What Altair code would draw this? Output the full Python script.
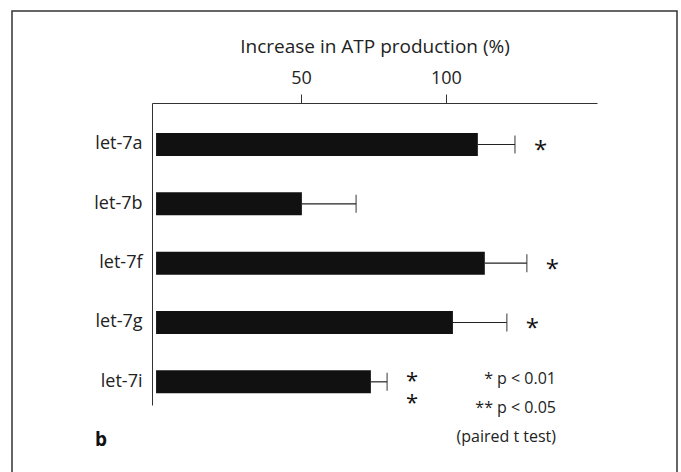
import altair as alt
import pandas as pd

# Data
categories = ["let-7a", "let-7b", "let-7f", "let-7g", "let-7i"]
increase = [111.0, 50.3, 113.4, 102.4, 74.1]
upper = [123.8, 69.0, 127.9, 121.0, 79.7]
significance = ["*", "", "*", "*", "**"]
tick_values = [50, 100]
legend_lines = ["* p < 0.01", "** p < 0.05", "(paired t test)"]

df = pd.DataFrame({
    "miRNA": categories,
    "increase": increase,
    "upper": upper,
    "sig": significance,
})

FONT = "Open Sans"
x_scale = alt.Scale(domain=[-1.4, 152.1], nice=False, zero=False)
y_scale = alt.Scale(domain=categories, paddingInner=0.612, paddingOuter=0.351, align=0.72)

x_enc = alt.X(
    "increase:Q",
    scale=x_scale,
    axis=alt.Axis(
        orient="top", values=tick_values, title="Increase in ATP production (%)",
        tickSize=9, labelPadding=7, titlePadding=13, grid=False,
        domainColor="#333", tickColor="#333", labelColor="#222", titleColor="#222",
        labelFont=FONT, titleFont=FONT, labelFontSize=18, titleFontSize=19,
        titleFontWeight="normal",
    ),
)
y_enc = alt.Y(
    "miRNA:N",
    scale=y_scale,
    sort=categories,
    axis=alt.Axis(
        title=None, ticks=False, domain=True, domainColor="#333", labelPadding=10,
        labelFont=FONT, labelFontSize=18, labelColor="#222",
    ),
)

base = alt.Chart(df)

bars = base.mark_bar(color="#111111").encode(
    x=x_enc, x2=alt.value(0), y=y_enc
)

whisker = base.mark_rule(color="#222", strokeWidth=1.2).encode(
    x=alt.X("increase:Q", scale=x_scale), x2="upper:Q",
    y=alt.Y("miRNA:N", scale=y_scale, sort=categories, bandPosition=0.5),
)

cap = base.mark_tick(color="#222", thickness=1.3, size=18, orient="vertical").encode(
    x=alt.X("upper:Q", scale=x_scale),
    y=alt.Y("miRNA:N", scale=y_scale, sort=categories),
)

star_enc = dict(
    x=alt.X("upper:Q", scale=x_scale),
    y=alt.Y("miRNA:N", scale=y_scale, sort=categories),
    text="stars:N",
)

single_stars = base.transform_filter("length(datum.sig) == 1").transform_calculate(
    stars="datum.sig"
).mark_text(
    font=FONT, fontSize=24, align="left", baseline="middle", dx=19, dy=7, color="#111",
).encode(**star_enc)

double_stars = base.transform_filter("length(datum.sig) == 2").transform_calculate(
    stars="'*\\n*'"
).mark_text(
    font=FONT, fontSize=22, align="left", baseline="middle", dx=19, dy=-1,
    lineBreak="\n", lineHeight=22, color="#111",
).encode(**star_enc)

legend_df = pd.DataFrame({"line": legend_lines, "row": [0, 1, 2]})
legend = alt.Chart(legend_df).transform_calculate(
    ypix="281 + datum.row * 29"
).mark_text(
    font=FONT, fontSize=16, align="right", baseline="alphabetic", color="#222",
).encode(
    x=alt.value(404),
    y=alt.Y("ypix:Q", scale=None, axis=None),
    text="line:N",
)

panel_df = pd.DataFrame({"label": ["b"]})
panel = alt.Chart(panel_df).mark_text(
    font=FONT, fontSize=19, fontWeight="bold", align="left", baseline="alphabetic", color="#111",
).encode(x=alt.value(-57), y=alt.value(343), text="label:N")

frame = alt.Chart(panel_df).mark_rect(
    fill=None, stroke="#333", strokeWidth=1.5
).encode(
    x=alt.value(-140), x2=alt.value(525), y=alt.value(-92), y2=alt.value(380)
)

chart = alt.layer(frame, bars, whisker, cap, single_stars, double_stars, legend, panel).properties(
    width=445, height=302,
    autosize=alt.AutoSizeParams(type="none"),
    padding={"left": 152, "top": 103, "right": 84, "bottom": 67},
).configure(
    background="white", view=alt.ViewConfig(strokeWidth=0, stroke="transparent")
)

chart.save("out.html", embed_options={"renderer": "svg", "actions": False})
